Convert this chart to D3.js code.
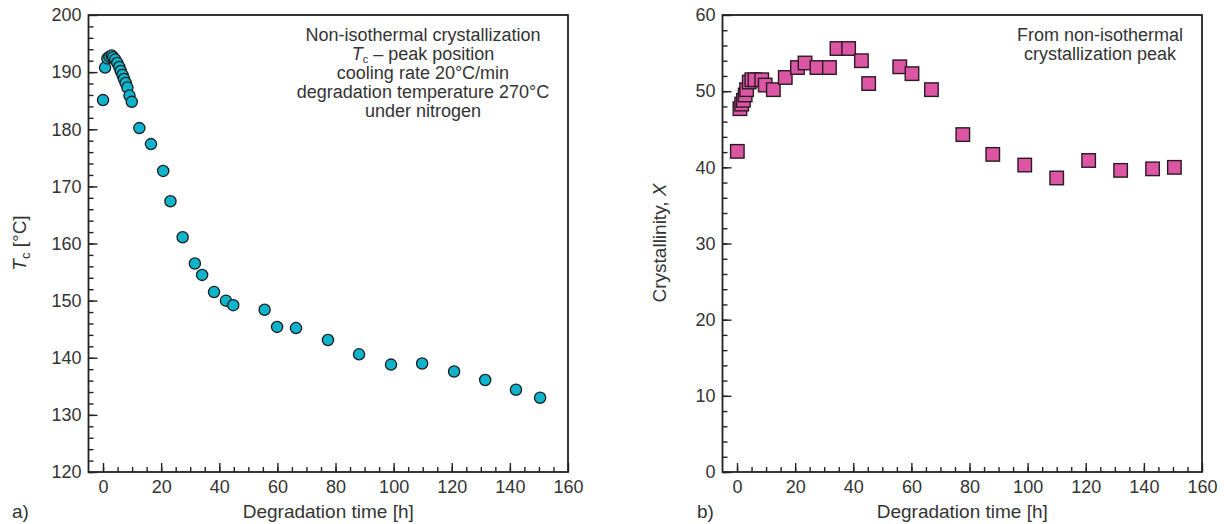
<!DOCTYPE html>
<html>
<head>
<meta charset="utf-8">
<script src="https://cdn.jsdelivr.net/npm/d3@7"></script>
<style>
  body { margin: 0; background: #fff; }
  svg text { font-family: "Liberation Sans", Arial, sans-serif; fill: #333; }
</style>
</head>
<body>
<div id="root"></div>
<script>
// a) peak position of crystallization vs degradation time
const timeA = [0, 0.7, 1.5, 2.2, 3.0, 3.5, 4.2, 4.9, 5.6, 6.1, 6.7, 7.2, 7.8, 8.4, 9.1, 9.9,
  12.5, 16.5, 20.7, 23.2, 27.4, 31.6, 34.1, 38.2, 42.3, 44.8, 55.6, 59.9, 66.4, 77.4,
  88.1, 99.1, 109.8, 120.8, 131.5, 142.1, 150.4];
const tcA = [185.1, 190.8, 192.4, 192.7, 192.9, 192.6, 192.2, 191.6, 190.9, 190.2, 189.5, 188.8, 188.1, 187.3, 185.9, 184.8,
  180.2, 177.4, 172.7, 167.4, 161.1, 156.5, 154.5, 151.5, 150.0, 149.2, 148.4, 145.4, 145.2, 143.1,
  140.6, 138.8, 139.0, 137.6, 136.1, 134.4, 133.0];

// b) crystallinity vs degradation time
const timeB = [0.1, 1.0, 1.6, 2.2, 2.8, 3.3, 4.2, 5.1, 6.2, 8.5, 9.7, 12.5, 16.6, 20.8, 23.4, 27.5,
  31.8, 34.4, 38.4, 42.8, 45.3, 56.0, 60.2, 66.9, 77.7, 88.0, 99.0, 110.0, 121.0, 132.0, 143.0, 150.5];
const crystB = [42.1, 47.7, 48.3, 48.8, 49.5, 50.2, 51.2, 51.5, 51.5, 51.5, 50.8, 50.2, 51.8, 53.1, 53.7, 53.1,
  53.1, 55.6, 55.6, 54.0, 51.0, 53.2, 52.3, 50.2, 44.3, 41.7, 40.3, 38.6, 40.9, 39.6, 39.8, 40.0];

const xTicks = [0, 20, 40, 60, 80, 100, 120, 140, 160];
const yTicksA = [120, 130, 140, 150, 160, 170, 180, 190, 200];
const yTicksB = [0, 10, 20, 30, 40, 50, 60];

const noteA = ["Non-isothermal crystallization", "TC", "cooling rate 20\u00b0C/min",
  "degradation temperature 270\u00b0C", "under nitrogen"];
const noteB = ["From non-isothermal", "crystallization peak"];

const W = 1224, H = 524;
const svg = d3.select("#root").append("svg").attr("width", W).attr("height", H);

function panel(cfg) {
  const x = d3.scaleLinear().domain([-5, 160]).range([cfg.left, cfg.right]);
  const y = d3.scaleLinear().domain(cfg.yDomain).range([472, 15]);
  const g = svg.append("g");

  // minor ticks (inward)
  g.append("g").attr("transform", "translate(0,472)")
    .call(d3.axisBottom(x).tickValues(d3.range(0, 160, 5)).tickSize(-5).tickFormat(""))
    .call(a => a.select(".domain").remove());
  g.append("g").attr("transform", `translate(${cfg.left},0)`)
    .call(d3.axisLeft(y).tickValues(d3.range(cfg.yDomain[0], cfg.yDomain[1], cfg.yMinor)).tickSize(-5).tickFormat(""))
    .call(a => a.select(".domain").remove());

  // major ticks + labels
  const xa = g.append("g").attr("transform", "translate(0,472)")
    .call(d3.axisBottom(x).tickValues(xTicks).tickSize(-9).tickPadding(8));
  xa.select(".domain").remove();
  const ya = g.append("g").attr("transform", `translate(${cfg.left},0)`)
    .call(d3.axisLeft(y).tickValues(cfg.yTicks).tickSize(-9).tickPadding(7));
  ya.select(".domain").remove();
  g.selectAll(".tick line").attr("stroke", "#222").attr("stroke-width", 1.4);
  g.selectAll(".tick text").style("font-size", "18px").attr("fill", "#333");

  // frame
  g.append("rect")
    .attr("x", cfg.left).attr("y", 15)
    .attr("width", cfg.right - cfg.left).attr("height", 472 - 15)
    .attr("fill", "none").attr("stroke", "#222").attr("stroke-width", 1.8);

  g.append("text").attr("x", (cfg.left + cfg.right) / 2).attr("y", 518)
    .attr("text-anchor", "middle").style("font-size", "19px").text("Degradation time [h]");
  g.append("text").attr("x", cfg.tagX).attr("y", 518)
    .style("font-size", "19px").text(cfg.tag);

  return { g, x, y };
}

// ---- a) ----
const pa = panel({ left: 88.5, right: 568, yDomain: [120, 200], yMinor: 2, yTicks: yTicksA, tag: "a)", tagX: 12 });

const ylabA = pa.g.append("text")
  .attr("transform", "translate(26,243) rotate(-90)")
  .attr("text-anchor", "middle").style("font-size", "19px");
ylabA.append("tspan").style("font-style", "italic").text("T");
ylabA.append("tspan").attr("dy", 4).style("font-size", "13px").text("c");
ylabA.append("tspan").attr("dy", -4).text(" [\u00b0C]");

const na = pa.g.append("text").attr("text-anchor", "middle").style("font-size", "18px");
noteA.forEach((s, i) => {
  const t = na.append("tspan").attr("x", 423).attr("y", 41 + i * 19);
  if (s === "TC") {
    t.append("tspan").style("font-style", "italic").text("T");
    t.append("tspan").attr("dy", 3).style("font-size", "11px").text("c");
    t.append("tspan").attr("dy", -3).text(" \u2013 peak position");
  } else {
    t.text(s);
  }
});

pa.g.append("g").selectAll("circle")
  .data(timeA.map((t, i) => [t, tcA[i]]))
  .join("circle")
  .attr("cx", d => pa.x(d[0])).attr("cy", d => pa.y(d[1])).attr("r", 5.6)
  .attr("fill", "#0db4cc").attr("stroke", "#1c1c1c").attr("stroke-width", 1.3);

// ---- b) ----
const pb = panel({ left: 722.5, right: 1202, yDomain: [0, 60], yMinor: 2, yTicks: yTicksB, tag: "b)", tagX: 697 });

const ylabB = pb.g.append("text")
  .attr("transform", "translate(666,243) rotate(-90)")
  .attr("text-anchor", "middle").style("font-size", "19px");
ylabB.append("tspan").text("Crystallinity, ");
ylabB.append("tspan").style("font-style", "italic").text("X");

const nb = pb.g.append("text").attr("text-anchor", "middle").style("font-size", "18px");
noteB.forEach((s, i) => {
  nb.append("tspan").attr("x", 1100).attr("y", 41 + i * 19).text(s);
});

const sq = 13.5;
pb.g.append("g").selectAll("rect")
  .data(timeB.map((t, i) => [t, crystB[i]]))
  .join("rect")
  .attr("x", d => pb.x(d[0]) - sq / 2).attr("y", d => pb.y(d[1]) - sq / 2)
  .attr("width", sq).attr("height", sq)
  .attr("fill", "#dc56a3").attr("stroke", "#2a1a24").attr("stroke-width", 1.4);
</script>
</body>
</html>
